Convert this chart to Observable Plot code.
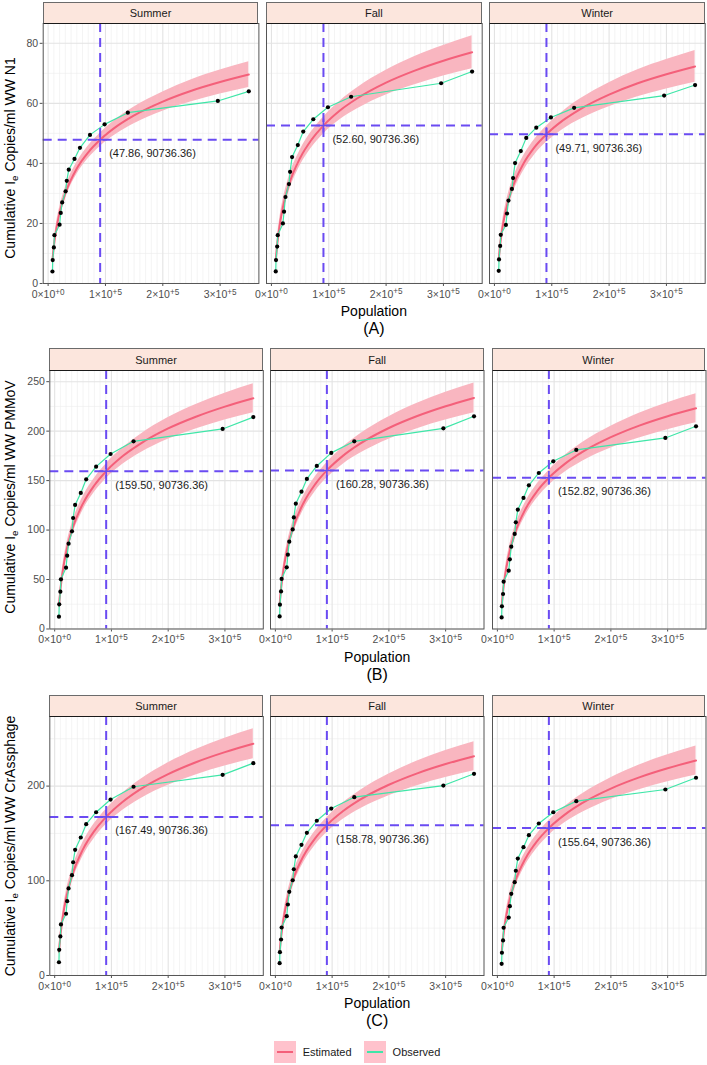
<!DOCTYPE html>
<html><head><meta charset="utf-8">
<script src="https://cdn.jsdelivr.net/npm/d3@7"></script>
<script src="https://cdn.jsdelivr.net/npm/@observablehq/plot@0.6"></script>
<style>
body{margin:0;background:#fff;font-family:"Liberation Sans",Arial,Helvetica,sans-serif;}
#root{position:relative;width:707px;height:1065px;overflow:hidden;background:#fff;}
.strip{position:absolute;box-sizing:border-box;background:#FCE6DD;border:1px solid #6b6b6b;border-bottom:1.5px solid #1a1a1a;font-size:11px;color:#1A1A1A;display:flex;align-items:center;justify-content:center;}
.ytitle{position:absolute;white-space:nowrap;font-size:14px;color:#000;transform:translate(-50%,-50%) rotate(-90deg);}
.ytitle sub{font-size:70%;vertical-align:-0.25em;}
.xtitle{position:absolute;white-space:nowrap;color:#000;transform:translate(-50%,-50%);}
.legend{position:absolute;top:1041px;left:0;width:714px;display:flex;justify-content:center;align-items:center;font-size:11px;color:#1a1a1a;}
.key{width:22px;height:22px;background:#FFC2CC;position:relative;margin-right:7px;}
.key i{position:absolute;left:3px;right:3px;top:10px;height:2px;}
</style></head><body><div id="root"></div>
<script>
// ---------- data ----------
const seasons = ["Summer", "Fall", "Winter"];
const population = [7500, 8000, 10000, 11000, 20000, 22000, 24500, 30500, 32500, 36000, 46000, 55500, 73000, 98500, 139000, 296000, 350000];
const estPopulation = [7500, 10000, 15000, 20000, 30000, 50000, 70000, 90736.36, 120000, 150000, 200000, 250000, 300000, 350000];
const crossPopulation = 90736.36;

const obs_N1_Summer = [4.0, 7.8, 12.0, 16.1, 19.6, 23.5, 27.0, 30.7, 34.2, 37.9, 41.5, 45.2, 49.5, 53.0, 56.9, 60.8, 64.0];
const obs_N1_Fall   = [4.0, 7.8, 12.3, 16.1, 20.0, 23.9, 28.8, 33.1, 37.2, 42.1, 46.1, 50.6, 54.7, 58.7, 62.2, 66.7, 70.6];
const obs_N1_Winter = [4.2, 8.0, 12.5, 16.2, 19.5, 23.3, 27.6, 31.5, 35.1, 40.1, 44.1, 48.5, 51.9, 55.3, 58.5, 62.6, 66.1];
const obs_PMMoV_Summer = [12.4, 24.9, 37.7, 50.2, 62.0, 74.1, 86.2, 98.7, 112.2, 125.4, 137.5, 151.3, 164.1, 176.9, 189.7, 202.2, 214.2];
const obs_PMMoV_Fall   = [12.7, 24.6, 38.0, 50.6, 62.3, 75.1, 88.3, 100.7, 112.8, 126.7, 138.8, 151.7, 164.8, 178.0, 189.7, 202.8, 215.0];
const obs_PMMoV_Winter = [11.7, 22.9, 35.4, 47.8, 59.0, 70.4, 83.2, 96.1, 107.8, 120.6, 132.5, 145.2, 157.7, 169.5, 181.0, 193.1, 204.9];
const obs_Cr_Summer = [14.0, 27.1, 41.2, 53.9, 65.2, 78.5, 91.9, 105.9, 119.6, 132.7, 145.7, 159.8, 172.4, 185.8, 199.3, 211.9, 224.2];
const obs_Cr_Fall   = [13.0, 24.6, 38.0, 50.7, 62.6, 75.0, 88.4, 100.6, 112.2, 125.7, 138.0, 150.7, 163.4, 176.3, 188.3, 200.6, 213.0];
const obs_Cr_Winter = [12.3, 24.0, 37.0, 50.4, 61.2, 73.2, 86.3, 98.5, 110.6, 123.5, 135.5, 148.2, 160.5, 172.4, 184.1, 196.4, 208.8];

const est_N1_Summer = [7.7, 12.4, 18.9, 23.5, 30.0, 38.3, 43.7, 47.86, 52.4, 56.0, 60.6, 64.2, 67.1, 69.6];
const est_N1_Fall   = [7.6, 12.8, 20.1, 25.3, 32.6, 41.8, 47.9, 52.60, 57.7, 61.7, 66.9, 70.9, 74.2, 77.0];
const est_N1_Winter = [8.0, 12.8, 19.6, 24.4, 31.2, 39.7, 45.4, 49.71, 54.4, 58.1, 62.9, 66.7, 69.7, 72.3];
const est_PMMoV_Summer = [23.4, 39.1, 61.2, 76.9, 99.1, 127.0, 145.3, 159.50, 174.8, 186.9, 202.7, 214.8, 224.8, 233.2];
const est_PMMoV_Fall   = [24.9, 40.6, 62.6, 78.2, 100.2, 127.9, 146.2, 160.28, 175.5, 187.6, 203.2, 215.3, 225.2, 233.6];
const est_PMMoV_Winter = [23.0, 38.0, 59.1, 74.1, 95.2, 121.8, 139.3, 152.82, 167.4, 179.0, 193.9, 205.6, 215.1, 223.1];
const est_Cr_Summer = [24.9, 41.4, 64.5, 81.0, 104.2, 133.4, 152.7, 167.49, 183.5, 196.3, 212.7, 225.5, 235.9, 244.7];
const est_Cr_Fall   = [24.3, 39.9, 61.7, 77.2, 99.1, 126.7, 144.8, 158.78, 173.9, 185.9, 201.4, 213.5, 223.3, 231.6];
const est_Cr_Winter = [23.8, 39.0, 60.5, 75.7, 97.1, 124.1, 141.9, 155.64, 170.4, 182.2, 197.4, 209.2, 218.8, 227.0];

// half-width of the estimated band
const band_N1_Summer = [1.3, 1.5, 1.7, 1.8, 1.9, 2.0, 2.1, 2.2, 2.5, 2.8, 3.2, 3.7, 4.0, 4.3];
const band_N1_Fall   = [1.7, 1.9, 2.2, 2.3, 2.5, 2.6, 2.7, 2.8, 3.1, 3.5, 4.1, 4.7, 5.1, 5.5];
const band_N1_Winter = [1.6, 1.9, 2.1, 2.2, 2.4, 2.5, 2.6, 2.7, 3.0, 3.4, 4.0, 4.5, 4.9, 5.3];
const band_PMMoV_Summer = [4.6, 5.1, 5.8, 6.1, 6.6, 6.9, 7.2, 7.4, 8.3, 9.3, 11.0, 12.4, 13.6, 14.6];
const band_PMMoV_Fall   = [4.8, 5.3, 6.0, 6.3, 6.8, 7.1, 7.4, 7.7, 8.6, 9.7, 11.3, 12.8, 14.0, 15.1];
const band_PMMoV_Winter = [4.7, 5.1, 5.9, 6.2, 6.6, 6.9, 7.2, 7.5, 8.4, 9.4, 11.0, 12.5, 13.7, 14.7];
const band_Cr_Summer = [5.0, 5.5, 6.3, 6.6, 7.1, 7.4, 7.7, 8.1, 9.0, 10.1, 11.9, 13.4, 14.7, 15.8];
const band_Cr_Fall   = [4.9, 5.4, 6.1, 6.4, 6.9, 7.2, 7.5, 7.8, 8.7, 9.8, 11.5, 13.0, 14.2, 15.3];
const band_Cr_Winter = [4.9, 5.4, 6.1, 6.4, 6.9, 7.2, 7.5, 7.8, 8.7, 9.8, 11.5, 13.0, 14.2, 15.3];

const cross_N1 = [47.86, 52.60, 49.71];
const cross_PMMoV = [159.50, 160.28, 152.82];
const cross_Cr = [167.49, 158.78, 155.64];

const xTicks = [0, 100000, 200000, 300000];
const xTickBase = ["0×10", "1×10", "2×10", "3×10"];
const xTickExp = ["+0", "+5", "+5", "+5"];
const yTicks_N1 = [0, 20, 40, 60, 80];
const yTicks_PMMoV = [0, 50, 100, 150, 200, 250];
const yTicks_Cr = [0, 100, 200];
const targets = ["N1", "PMMoV", "CrAssphage"];
const rowTags = ["(A)", "(B)", "(C)"];
const seriesNames = ["Estimated", "Observed"];

// ---------- styles / layout ----------
const C_EST = "#F4607A", C_BAND = "#F9B6C0", C_OBS = "#3FE6A8", C_CROSS = "#6A4BF2";
const FONT = '"Liberation Sans", Arial, Helvetica, sans-serif';
const RIGHT = 705, GAP = 7.6;
const xDomain = [-8600, 367600];
const layout = [
  {stripTop: 2,   top: 23,  bottom: 283,   left: 42.7, yDomain: [0, 86.6],  yMinorStep: 10, titleY: 158},
  {stripTop: 348, top: 370, bottom: 628.5, left: 49.3, yDomain: [0, 261.3], yMinorStep: 25, titleY: 497},
  {stripTop: 695, top: 716, bottom: 975,   left: 49.3, yDomain: [0, 273.5], yMinorStep: 50, titleY: 846}
];
const rows = [
  {obs: [obs_N1_Summer, obs_N1_Fall, obs_N1_Winter], est: [est_N1_Summer, est_N1_Fall, est_N1_Winter], band: [band_N1_Summer, band_N1_Fall, band_N1_Winter], cross: cross_N1, yTicks: yTicks_N1},
  {obs: [obs_PMMoV_Summer, obs_PMMoV_Fall, obs_PMMoV_Winter], est: [est_PMMoV_Summer, est_PMMoV_Fall, est_PMMoV_Winter], band: [band_PMMoV_Summer, band_PMMoV_Fall, band_PMMoV_Winter], cross: cross_PMMoV, yTicks: yTicks_PMMoV},
  {obs: [obs_Cr_Summer, obs_Cr_Fall, obs_Cr_Winter], est: [est_Cr_Summer, est_Cr_Fall, est_Cr_Winter], band: [band_Cr_Summer, band_Cr_Fall, band_Cr_Winter], cross: cross_Cr, yTicks: yTicks_Cr}
];

const root = document.getElementById("root");
function addDiv(cls, html, css) {
  const d = document.createElement("div");
  d.className = cls; d.innerHTML = html;
  Object.assign(d.style, css);
  root.appendChild(d);
  return d;
}
const SVGNS = "http://www.w3.org/2000/svg";
function superscriptTicks(svg) {
  svg.querySelectorAll("text").forEach(t => {
    const s = t.textContent;
    if (!s.includes("^")) return;
    const [base, exp] = s.split("^");
    t.textContent = "";
    const a = document.createElementNS(SVGNS, "tspan"); a.textContent = base;
    const b = document.createElementNS(SVGNS, "tspan"); b.textContent = exp;
    b.setAttribute("dy", "-0.42em"); b.setAttribute("font-size", "78%");
    t.append(a, b);
  });
}

const xMajor = xTicks;
const xMinor = d3.range(10000, 370000, 10000).filter(v => v % 100000 !== 0);

rows.forEach((row, r) => {
  const L = layout[r];
  const ph = L.bottom - L.top;
  const pw = (RIGHT - L.left - 2 * GAP) / 3;
  const yMinor = d3.range(L.yMinorStep, L.yDomain[1], L.yMinorStep).filter(v => !row.yTicks.includes(v));
  seasons.forEach((season, c) => {
    const px = L.left + c * (pw + GAP);
    const ml = c === 0 ? L.left : 0;
    const obs = population.map((x, i) => ({x, y: row.obs[c][i]}));
    const est = estPopulation.map((x, i) => ({x, y: row.est[c][i], lo: row.est[c][i] - row.band[c][i], hi: row.est[c][i] + row.band[c][i]}));
    const cy = row.cross[c];
    const cross = [{x: crossPopulation, y: cy, label: `(${cy.toFixed(2)}, ${crossPopulation.toFixed(2)})`}];
    const svg = Plot.plot({
      width: pw + ml, height: ph + 24,
      marginLeft: ml, marginRight: 0, marginTop: 0, marginBottom: 24,
      style: {background: "transparent", overflow: "visible", fontFamily: FONT, fontSize: "10.5px", color: "#4D4D4D"},
      x: {domain: xDomain, ticks: xTicks, tickFormat: d => xTickBase[xTicks.indexOf(d)] + "^" + xTickExp[xTicks.indexOf(d)], tickSize: 3, tickPadding: 4, label: null},
      y: {domain: L.yDomain, ticks: row.yTicks, tickSize: 3, tickPadding: 2, label: null, axis: c === 0 ? "left" : null},
      marks: [
        Plot.ruleX(xMinor, {stroke: "#EDEDED", strokeWidth: 0.6}),
        Plot.ruleY(yMinor, {stroke: "#EDEDED", strokeWidth: 0.6}),
        Plot.ruleX(xMajor, {stroke: "#E3E3E3", strokeWidth: 1.1}),
        Plot.ruleY(row.yTicks, {stroke: "#E3E3E3", strokeWidth: 1.1}),
        Plot.areaY(est, {x: "x", y1: "lo", y2: "hi", fill: C_BAND, curve: "monotone-x"}),
        Plot.lineY(est, {x: "x", y: "y", stroke: C_EST, strokeWidth: 2, curve: "monotone-x"}),
        Plot.line(obs, {x: "x", y: "y", stroke: C_OBS, strokeWidth: 1.2}),
        Plot.dot(obs, {x: "x", y: "y", r: 2.1, fill: "#000", stroke: null}),
        Plot.ruleX(cross, {x: "x", stroke: C_CROSS, strokeWidth: 2, strokeDasharray: "9,6"}),
        Plot.ruleY(cross, {y: "y", stroke: C_CROSS, strokeWidth: 2, strokeDasharray: "9,6"}),
        Plot.dot(cross, {x: "x", y: "y", symbol: "plus", r: 4.5, stroke: C_CROSS, strokeWidth: 1.6}),
        Plot.text(cross, {x: "x", y: "y", text: "label", textAnchor: "start", dx: 9, dy: 14, fontSize: 11, fill: "#1a1a1a"}),
        Plot.frame({stroke: "#555555", strokeWidth: 1})
      ]
    });
    superscriptTicks(svg);
    svg.style.position = "absolute";
    svg.style.left = (px - ml) + "px";
    svg.style.top = L.top + "px";
    root.appendChild(svg);
    addDiv("strip", season, {left: px + "px", top: L.stripTop + "px", width: pw + "px", height: (L.top - L.stripTop + 1) + "px"});
  });
  addDiv("ytitle", `Cumulative I<sub>e</sub> Copies/ml WW ${targets[r]}`, {left: "11px", top: L.titleY + "px"});
  const cx = (L.left + RIGHT) / 2;
  addDiv("xtitle", "Population", {left: cx + "px", top: (L.bottom + 28) + "px", fontSize: "14px"});
  addDiv("xtitle", rowTags[r], {left: cx + "px", top: (L.bottom + 46) + "px", fontSize: "16px"});
});

// legend
const lg = addDiv("legend", "", {});
seriesNames.forEach((name, i) => {
  const item = document.createElement("div");
  item.style.cssText = "display:flex;align-items:center;margin:0 6px;";
  item.innerHTML = `<div class="key"><i style="background:${i === 0 ? C_EST : C_OBS}"></i></div><span>${name}</span>`;
  lg.appendChild(item);
});
</script></body></html>
